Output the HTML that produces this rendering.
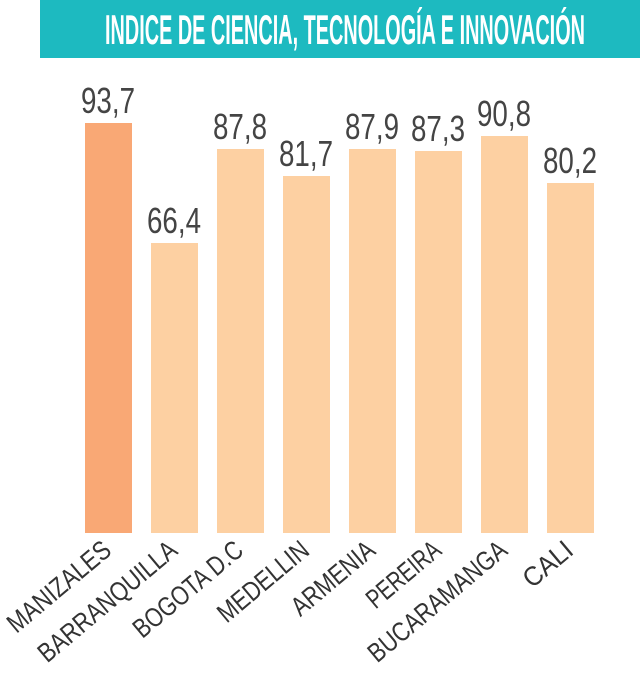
<!DOCTYPE html>
<html><head><meta charset="utf-8"><style>
html,body{margin:0;padding:0;background:#fff;}
svg{display:block}
</style></head><body>
<svg width="640" height="675" viewBox="0 0 640 675" xmlns="http://www.w3.org/2000/svg" font-family="Liberation Sans, sans-serif">
<rect x="40" y="0" width="600" height="58" fill="#1DBAC0"/>
<text x="345" y="44" text-anchor="middle" fill="#fff" font-size="42" font-weight="bold" textLength="480" lengthAdjust="spacingAndGlyphs">INDICE DE CIENCIA, TECNOLOGÍA E INNOVACIÓN</text>
<g fill="#FDD0A2">
<rect x="85" y="123" width="47" height="410" fill="#F9A875"/>
<rect x="151" y="243" width="47" height="290"/>
<rect x="217" y="149" width="47" height="384"/>
<rect x="283" y="176" width="47" height="357"/>
<rect x="349" y="149" width="47" height="384"/>
<rect x="415" y="151" width="47" height="382"/>
<rect x="481" y="136" width="47" height="397"/>
<rect x="547" y="183" width="47" height="350"/>
</g>
<g fill="#444" font-size="36" text-anchor="middle">
<text x="108" y="113" textLength="54" lengthAdjust="spacingAndGlyphs">93,7</text>
<text x="174" y="233" textLength="54" lengthAdjust="spacingAndGlyphs">66,4</text>
<text x="240" y="139" textLength="54" lengthAdjust="spacingAndGlyphs">87,8</text>
<text x="306" y="166" textLength="54" lengthAdjust="spacingAndGlyphs">81,7</text>
<text x="372" y="139" textLength="54" lengthAdjust="spacingAndGlyphs">87,9</text>
<text x="438" y="141" textLength="54" lengthAdjust="spacingAndGlyphs">87,3</text>
<text x="504" y="126" textLength="54" lengthAdjust="spacingAndGlyphs">90,8</text>
<text x="570" y="173" textLength="54" lengthAdjust="spacingAndGlyphs">80,2</text>
</g>
<g fill="#333" font-size="27" text-anchor="end">
<text transform="translate(113,553) rotate(-40)" textLength="126" lengthAdjust="spacingAndGlyphs">MANIZALES</text>
<text transform="translate(179,553) rotate(-40)" textLength="172" lengthAdjust="spacingAndGlyphs">BARRANQUILLA</text>
<text transform="translate(245,553) rotate(-40)" textLength="134" lengthAdjust="spacingAndGlyphs">BOGOTA D.C</text>
<text transform="translate(311,553) rotate(-40)" textLength="110" lengthAdjust="spacingAndGlyphs">MEDELLIN</text>
<text transform="translate(377,553) rotate(-40)" textLength="100" lengthAdjust="spacingAndGlyphs">ARMENIA</text>
<text transform="translate(443,553) rotate(-40)" textLength="88" lengthAdjust="spacingAndGlyphs">PEREIRA</text>
<text transform="translate(509,553) rotate(-40)" textLength="172" lengthAdjust="spacingAndGlyphs">BUCARAMANGA</text>
<text transform="translate(575,553) rotate(-40)" textLength="56" lengthAdjust="spacingAndGlyphs">CALI</text>
</g>
</svg>
</body></html>
